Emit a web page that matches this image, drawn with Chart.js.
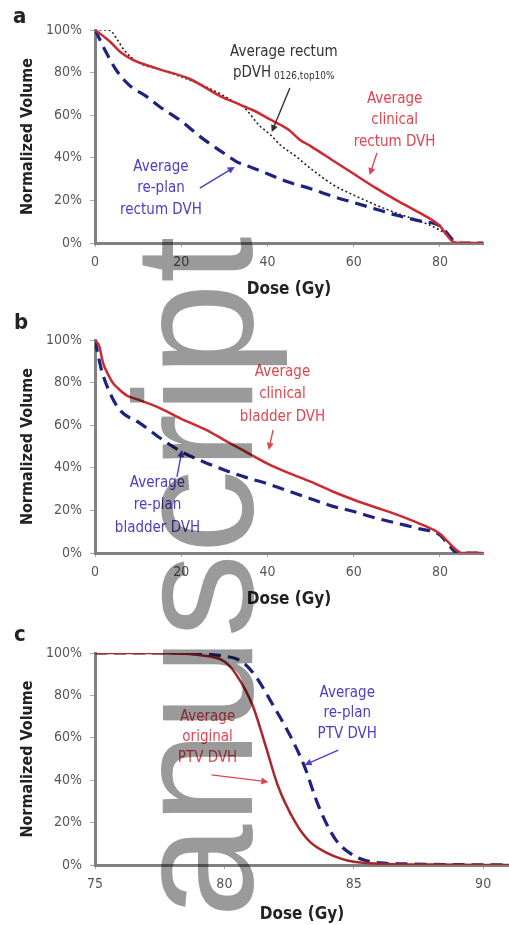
<!DOCTYPE html>
<html>
<head>
<meta charset="utf-8">
<script src="https://cdn.jsdelivr.net/npm/chart.js@4.4.1/dist/chart.umd.min.js"></script>
<style>
html, body { margin: 0; padding: 0; background: #fff; }
#wrap { position: relative; width: 509px; height: 925px; overflow: hidden; background: #fff; isolation: isolate; }
canvas { position: absolute; left: 0; z-index: 1; }
.wm { position: absolute; left: 110px; top: 918px; transform-origin: 0 0; transform: rotate(-90deg);
      font: 168px/1 'Liberation Sans', Arial, sans-serif; color: #9a9a9a; white-space: nowrap;
      z-index: 3; mix-blend-mode: multiply; pointer-events: none; }
.tag { position: absolute; font: bold 22px/1 'DejaVu Sans Condensed', 'DejaVu Sans', sans-serif; color: #222; z-index: 2; }
</style>
</head>
<body>
<div id="wrap">
  <div class="tag" style="left:13px;top:5px">a</div>
  <div class="tag" style="left:14px;top:311px">b</div>
  <div class="tag" style="left:14px;top:623px">c</div>
  <canvas id="chartA" width="509" height="300" style="top:0"></canvas>
  <canvas id="chartB" width="509" height="310" style="top:300px"></canvas>
  <canvas id="chartC" width="509" height="315" style="top:610px"></canvas>
  <div class="wm">anuscript</div>
</div>
<script>
// tick values
const yTicks = [0, 20, 40, 60, 80, 100];
const xTicksAB = [0, 20, 40, 60, 80];
const xTicksC = [75, 80, 85, 90];

// (a) rectum
const doseRectClin = [0, 2, 3.5, 5.8, 8.8, 14.3, 22, 29, 33.6, 38, 40.6, 43, 45, 47.5, 50, 55, 60, 65, 70, 75, 78, 80, 81.5, 82.5, 83.5, 85, 90];
const volRectClin  = [100, 97, 94.5, 89.8, 86, 82, 77, 69, 65, 61, 58, 55.5, 53, 48.5, 45.5, 39, 32.5, 26, 20, 14.5, 11, 8, 4, 1.5, 0.3, 0, 0];
const doseRectPdvh = [0, 3, 4, 5, 7, 10.4, 15, 20, 25, 30, 32, 34.4, 38.2, 40.6, 43, 46.7, 50, 55.5, 60, 65, 70, 75, 80, 82, 83, 85, 90];
const volRectPdvh  = [100, 100, 99, 96, 90, 84.4, 81.5, 78, 74, 69, 66.5, 64, 55, 51, 46, 40.5, 35, 27, 22.5, 18, 14, 10.5, 6, 3, 0.5, 0, 0];
const doseRectRepl = [0, 1, 2.3, 5, 8, 12, 15, 19.7, 25, 30, 33, 35, 40, 45, 50, 55, 60, 65, 70, 75, 80, 81.5, 82.5, 84, 90];
const volRectRepl  = [100, 96, 90.6, 81, 74, 68.7, 64, 57.7, 49, 42, 38, 36.5, 32.5, 28.5, 25.5, 22, 19, 16, 13, 10.5, 8, 5, 2.5, 0, 0];

// (b) bladder
const doseBladClin = [0, 1, 1.9, 3, 4.2, 5.5, 7.3, 10, 14.3, 20, 25.9, 30, 35, 40, 45, 50, 55, 60, 65, 70, 75, 80, 82, 83.5, 85, 90];
const volBladClin  = [100, 97, 89, 84, 79.7, 77, 74, 72, 68.7, 63, 57.7, 53, 47.5, 42, 37.5, 33.5, 29, 25, 21.5, 18, 14, 9, 5, 2, 0, 0];
const doseBladRepl = [0, 0.5, 1.5, 3.5, 5.8, 10.4, 15.8, 20, 25, 30, 35, 40, 45, 50, 55, 60, 65, 70, 75, 80, 82, 84, 90];
const volBladRepl  = [100, 95, 86, 75, 67, 61, 53, 47.6, 43, 39, 35.5, 32.5, 29, 25.5, 22, 19.5, 16.5, 14, 11.5, 8.5, 4, 0, 0];

// (c) PTV
const dosePtvOrig = [75, 77, 78, 79, 80, 80.45, 81.1, 81.6, 82.05, 82.75, 83.3, 84, 84.5, 85, 86, 88, 91];
const volPtvOrig  = [100, 100, 99.8, 99, 96, 90, 75, 56, 38, 20, 11, 5.5, 3, 1.5, 0.6, 0.2, 0];
const dosePtvRepl = [75, 77, 78, 79, 80, 80.6, 81.15, 81.9, 82.5, 83.08, 83.65, 84.3, 85.06, 85.5, 86, 87, 88, 91];
const volPtvRepl  = [100, 100, 100, 99.6, 98.5, 96.5, 90, 75, 62, 47, 27.5, 12, 4, 2, 1, 0.5, 0.3, 0];

const FONT = "'DejaVu Sans Condensed', 'DejaVu Sans', sans-serif";
const RED = '#cc2a30';
const BLUE = '#1d237e';
const TXT_RED = '#e2454f';
const TXT_BLUE = '#4b3fc4';
const TXT_BLACK = '#333';

function pts(xs, ys) {
    return xs.map((x, i) => ({ x: x, y: ys[i] }));
}

function solid(xs, ys, color) {
    return { data: pts(xs, ys), borderColor: color, borderWidth: 2.5, fill: false };
}
function dashed(xs, ys) {
    return { data: pts(xs, ys), borderColor: BLUE, borderWidth: 3.2, borderDash: [12, 7], fill: false };
}
function dotted(xs, ys) {
    return { data: pts(xs, ys), borderColor: '#222', borderWidth: 1.6, borderDash: [2, 2.5], fill: false };
}

// text + arrow annotations, placed in data units
const notesPlugin = {
    id: 'notes',
    afterDatasetsDraw(chart, args, opts) {
        const ctx = chart.ctx;
        const xs = chart.scales.x, ys = chart.scales.y;
        const mainFont = '15px ' + FONT;
        const subFont = '10px ' + FONT;
        ctx.save();
        (opts.items || []).forEach(n => {
            const px = xs.getPixelForValue(n.x);
            const py = ys.getPixelForValue(n.y);
            ctx.fillStyle = n.color;
            ctx.strokeStyle = n.color;
            ctx.textBaseline = 'middle';
            n.lines.forEach((t, i) => {
                const ly = py + i * opts.gap;
                if (Array.isArray(t)) {
                    ctx.font = mainFont;
                    const w1 = ctx.measureText(t[0]).width;
                    ctx.font = subFont;
                    const w2 = ctx.measureText(t[1]).width;
                    const sx = px - (w1 + w2 + 3) / 2;
                    ctx.textAlign = 'left';
                    ctx.font = mainFont;
                    ctx.fillText(t[0], sx, ly);
                    ctx.font = subFont;
                    ctx.fillText(t[1], sx + w1 + 3, ly + 3);
                } else {
                    ctx.textAlign = 'center';
                    ctx.font = mainFont;
                    ctx.fillText(t, px, ly);
                }
            });
            if (n.arrow) {
                const x1 = xs.getPixelForValue(n.arrow[0]), y1 = ys.getPixelForValue(n.arrow[1]);
                const x2 = xs.getPixelForValue(n.arrow[2]), y2 = ys.getPixelForValue(n.arrow[3]);
                const a = Math.atan2(y2 - y1, x2 - x1);
                ctx.lineWidth = 1.4;
                ctx.beginPath();
                ctx.moveTo(x1, y1);
                ctx.lineTo(x2 - 4 * Math.cos(a), y2 - 4 * Math.sin(a));
                ctx.stroke();
                ctx.beginPath();
                ctx.moveTo(x2, y2);
                ctx.lineTo(x2 - 7 * Math.cos(a) + 3.5 * Math.sin(a), y2 - 7 * Math.sin(a) - 3.5 * Math.cos(a));
                ctx.lineTo(x2 - 7 * Math.cos(a) - 3.5 * Math.sin(a), y2 - 7 * Math.sin(a) + 3.5 * Math.cos(a));
                ctx.closePath();
                ctx.fill();
            }
        });
        ctx.restore();
    }
};

function makeChart(id, cfg) {
    return new Chart(document.getElementById(id), {
        type: 'line',
        data: { datasets: cfg.datasets },
        options: {
            responsive: false,
            animation: false,
            layout: { padding: { top: cfg.top, right: cfg.right, left: 0, bottom: 0 } },
            elements: {
                point: { radius: 0 },
                line: { cubicInterpolationMode: 'monotone' }
            },
            plugins: {
                legend: { display: false },
                tooltip: { enabled: false },
                notes: { items: cfg.notes, gap: cfg.gap }
            },
            scales: {
                x: {
                    type: 'linear',
                    min: cfg.xmin,
                    max: cfg.xmax,
                    afterBuildTicks: s => { s.ticks = cfg.xTicks.map(v => ({ value: v })); },
                    afterFit: s => { s.height = cfg.xh; },
                    border: { color: '#808080', width: 3 },
                    grid: { drawOnChartArea: false, color: '#aaa', tickLength: 4 },
                    ticks: { color: '#555', font: { family: FONT, size: 14 }, padding: 7 },
                    title: {
                        display: true, text: 'Dose (Gy)', color: '#222',
                        font: { family: FONT, size: 17, weight: 'bold' },
                        padding: { top: cfg.xtp, bottom: 0 }
                    }
                },
                y: {
                    min: 0,
                    max: 100,
                    afterBuildTicks: s => { s.ticks = yTicks.map(v => ({ value: v })); },
                    afterFit: s => { s.width = 95; },
                    border: { color: '#808080', width: 3 },
                    grid: { drawOnChartArea: false, color: '#aaa', tickLength: 5 },
                    ticks: { color: '#555', font: { family: FONT, size: 14 }, padding: 8, callback: v => v + '%' },
                    title: {
                        display: true, text: 'Normalized Volume', color: '#222',
                        font: { family: FONT, size: 16, weight: 'bold' },
                        padding: { top: 18, bottom: 0 }
                    }
                }
            }
        },
        plugins: [notesPlugin]
    });
}

makeChart('chartA', {
    top: 30, right: 26, xh: 57, xtp: 10, gap: 21.5,
    xmin: 0, xmax: 90, xTicks: xTicksAB,
    datasets: [
        solid(doseRectClin, volRectClin, RED),
        dashed(doseRectRepl, volRectRepl),
        dotted(doseRectPdvh, volRectPdvh)
    ],
    notes: [
        { x: 43.8, y: 89.7, color: TXT_BLACK, lines: ['Average rectum', ['pDVH', '0126,top10%']], arrow: [45.2, 72.8, 41.0, 52.1] },
        { x: 69.5, y: 67.6, color: TXT_RED, lines: ['Average', 'clinical', 'rectum DVH'], arrow: [65.4, 42.3, 63.7, 31.9] },
        { x: 15.3, y: 35.7, color: TXT_BLUE, lines: ['Average', 're-plan', 'rectum DVH'], arrow: [24.3, 25.8, 32.4, 35.7] }
    ]
});

makeChart('chartB', {
    top: 40, right: 26, xh: 57, xtp: 10, gap: 22.5,
    xmin: 0, xmax: 90, xTicks: xTicksAB,
    datasets: [
        solid(doseBladClin, volBladClin, RED),
        dashed(doseBladRepl, volBladRepl)
    ],
    notes: [
        { x: 43.5, y: 85, color: TXT_RED, lines: ['Average', 'clinical', 'bladder DVH'], arrow: [41.3, 57.7, 40.3, 48.4] },
        { x: 14.5, y: 32.9, color: TXT_BLUE, lines: ['Average', 're-plan', 'bladder DVH'], arrow: [19.0, 35.7, 20.2, 48.4] }
    ]
});

makeChart('chartC', {
    top: 43, right: 0, xh: 60, xtp: 12, gap: 20.5,
    xmin: 75, xmax: 91, xTicks: xTicksC,
    datasets: [
        solid(dosePtvOrig, volPtvOrig, '#a8262c'),
        dashed(dosePtvRepl, volPtvRepl)
    ],
    notes: [
        { x: 79.35, y: 69.8, color: TXT_RED, lines: ['Average', 'original', 'PTV DVH'], arrow: [79.5, 42.5, 81.7, 39.2] },
        { x: 84.75, y: 81.1, color: TXT_BLUE, lines: ['Average', 're-plan', 'PTV DVH'], arrow: [84.4, 54.2, 83.1, 47.2] }
    ]
});
</script>
</body>
</html>
